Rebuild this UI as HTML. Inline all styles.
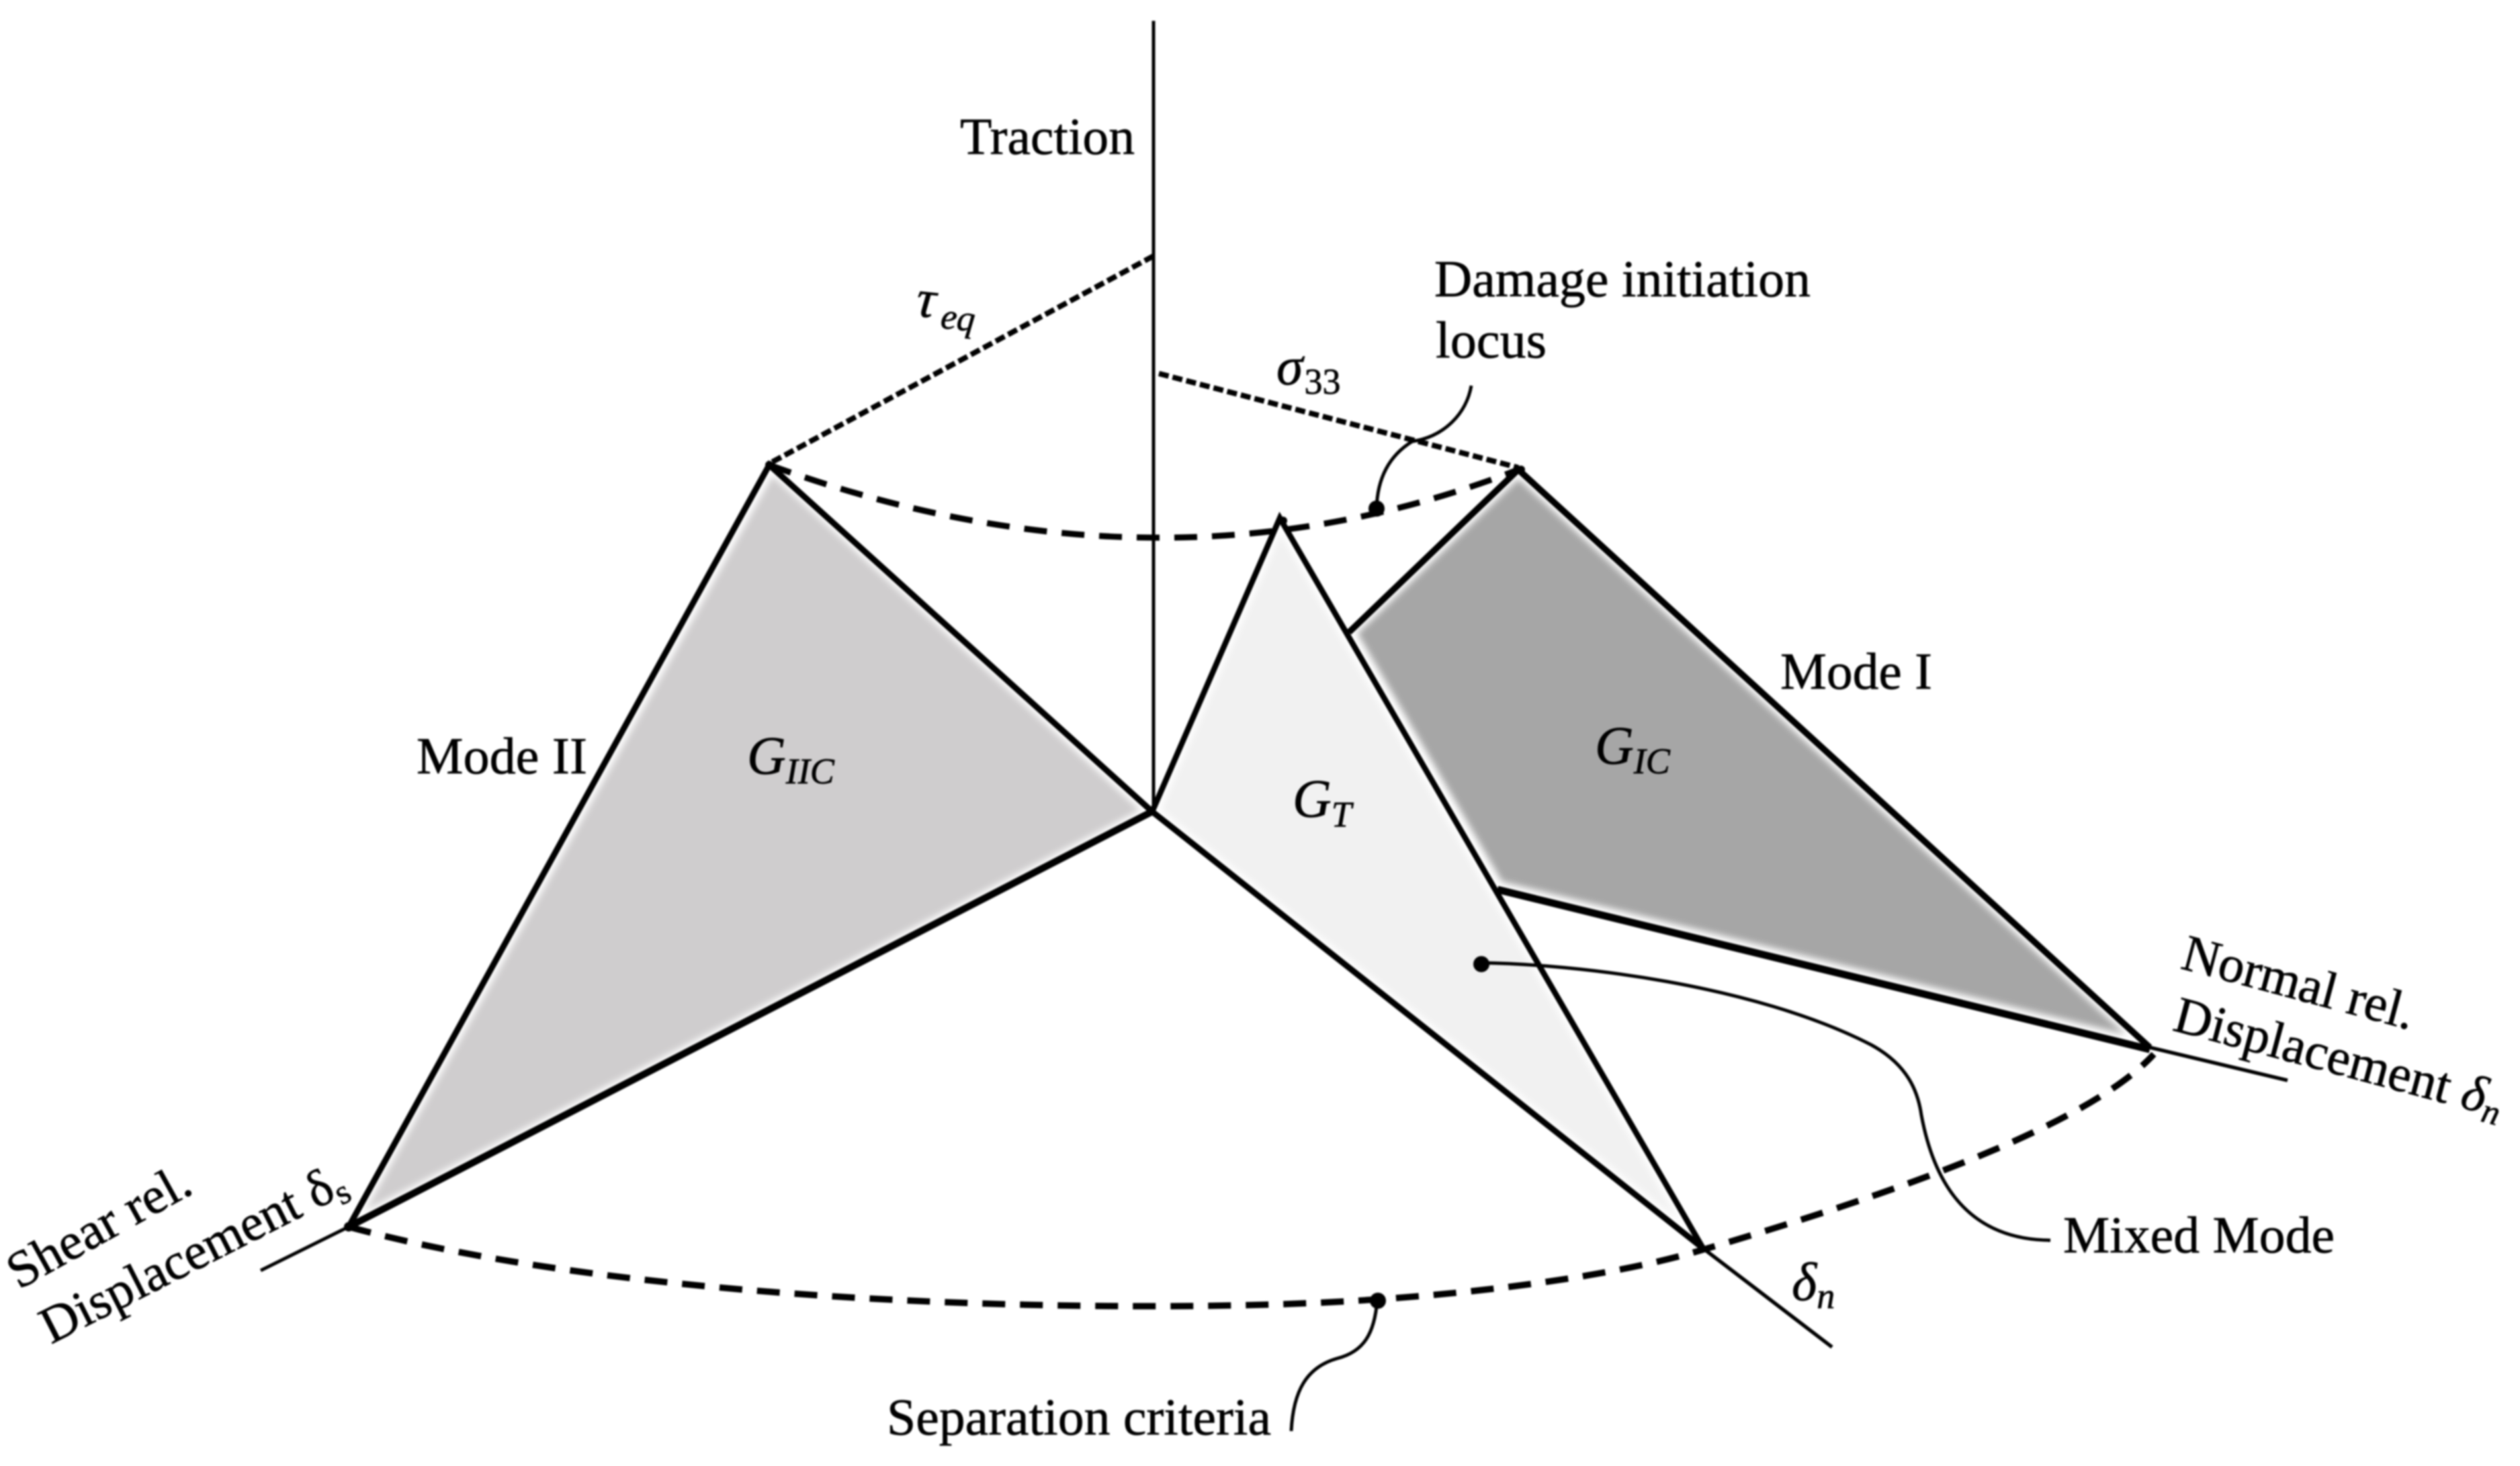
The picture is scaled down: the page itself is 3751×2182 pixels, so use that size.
<!DOCTYPE html>
<html lang="en">
<head>
<meta charset="utf-8">
<title>Traction separation diagram</title>
<style>
html,body{margin:0;padding:0;background:#fff;}
svg{display:block;filter:blur(1.2px);}
text{font-family:"Liberation Serif",serif;font-size:77px;fill:#000;stroke:#000;stroke-width:0.7px;}
.m{font-style:italic;font-size:80px;}
.s{font-style:italic;font-size:54px;}
.n{font-size:52px;}
</style>
</head>
<body>
<svg xmlns="http://www.w3.org/2000/svg" width="3751" height="2182" viewBox="0 0 3751 2182">
<defs>
<filter id="b" x="-5%" y="-5%" width="110%" height="110%"><feGaussianBlur stdDeviation="5"/></filter>
</defs>
<rect width="3751" height="2182" fill="#fff"/>

<!-- fills -->
<polygon points="1147,692 1715,1208 519,1826" fill="#cfcdce"/>
<polygon points="2260,699 3200,1559 2229,1321 2008,941" fill="#a6a6a6"/>
<polygon points="1905,771 2535,1858 1715,1208" fill="#f1f1f1"/>
<g fill="none" stroke="#fff" stroke-width="20" filter="url(#b)">
<polygon points="1147,692 1715,1208 519,1826"/>
<polygon points="2260,699 3200,1559 2229,1321 2008,941"/>
<polygon points="1905,771 2535,1858 1715,1208"/>
</g>

<!-- axes -->
<g stroke="#000" fill="none">
<line x1="1717" y1="31" x2="1717" y2="1208" stroke-width="5"/>
<line x1="519" y1="1826" x2="388" y2="1891" stroke-width="5"/>
<line x1="3200" y1="1559" x2="3405" y2="1608" stroke-width="5.5"/>
<line x1="2535" y1="1858" x2="2727" y2="2005" stroke-width="5.5"/>

<!-- main edges -->
<path d="M519 1826 L1145 692 L1715 1208 L2535 1858" stroke-width="9"/>
<path d="M519 1826 L1715 1208" stroke-width="10.5"/>
<path d="M1715 1208 L1905 771 L2535 1858" stroke-width="8.5"/>
<path d="M2008 941 L2260 699 L3200 1559" stroke-width="9.5"/>
<path d="M2229 1324 L3200 1562" stroke-width="11"/>

<!-- dashed -->
<line x1="1717" y1="381" x2="1145" y2="690" stroke-width="8" stroke-dasharray="15 6"/>
<line x1="1725" y1="556" x2="2260" y2="696" stroke-width="8" stroke-dasharray="15 6"/>
<path d="M1145 692 Q1730 905 2260 699" stroke-width="9" stroke-dasharray="34 22"/>
<path d="M519 1826 C900 1930,1500 1952,1879 1942 C2150 1935,2395 1902,2535 1860 C2790 1785,3105 1680,3206 1569" stroke-width="9.5" stroke-dasharray="34 22"/>

<!-- leaders -->
<path d="M2190 574 C2183 615,2150 650,2102 657 C2065 680,2050 715,2049 757" stroke-width="5"/>
<path d="M2203 1433 C2345 1435,2610 1465,2785 1555 C2840 1585,2855 1625,2860 1660 C2875 1740,2915 1845,3052 1846" stroke-width="5"/>
<path d="M2050 1935 C2046 1985,2030 2012,1990 2022 C1945 2035,1925 2070,1922 2130" stroke-width="5"/>
</g>

<!-- dots -->
<circle cx="2049" cy="757" r="12"/>
<circle cx="2205" cy="1435" r="12"/>
<circle cx="2051" cy="1936" r="12"/>
<circle cx="1145" cy="692" r="6"/>
<circle cx="2264" cy="699" r="6"/>
<circle cx="1910" cy="775" r="6"/>
<circle cx="519" cy="1826" r="7"/>

<!-- labels -->
<text x="1429" y="229" textLength="260" lengthAdjust="spacingAndGlyphs">Traction</text>
<text x="2135" y="441" textLength="560" lengthAdjust="spacingAndGlyphs">Damage initiation</text>
<text x="2137" y="532" textLength="165" lengthAdjust="spacingAndGlyphs">locus</text>
<text x="2650" y="1025" textLength="226" lengthAdjust="spacingAndGlyphs">Mode I</text>
<text x="620" y="1151" textLength="254" lengthAdjust="spacingAndGlyphs">Mode II</text>
<text x="3071" y="1864" textLength="404" lengthAdjust="spacingAndGlyphs">Mixed Mode</text>
<text x="1320" y="2135" textLength="572" lengthAdjust="spacingAndGlyphs">Separation criteria</text>

<text transform="translate(28 1920) rotate(-29)" textLength="300" lengthAdjust="spacingAndGlyphs">Shear rel.</text>
<text transform="translate(76 2001) rotate(-27)">Displacement δ<tspan class="n" dy="12">s</tspan></text>
<text transform="translate(3244 1441) rotate(15)" textLength="355" lengthAdjust="spacingAndGlyphs">Normal rel.</text>
<text transform="translate(3232 1533) rotate(15)">Displacement <tspan style="font-style:italic">δ</tspan><tspan class="n" dy="12" style="font-style:italic">n</tspan></text>

<text class="m" transform="translate(1362 470) rotate(6)">τ<tspan class="s" dx="10" dy="14">eq</tspan></text>
<text class="m" x="1900" y="572">σ<tspan class="s" dx="2" dy="14" style="font-style:normal">33</tspan></text>
<text class="m" x="1112" y="1152">G<tspan class="s" dy="14">IIC</tspan></text>
<text class="m" x="2374" y="1137">G<tspan class="s" dy="14">IC</tspan></text>
<text class="m" x="1924" y="1216">G<tspan class="s" dy="14">T</tspan></text>
<text class="m" x="2667" y="1935">δ<tspan class="s" dy="12">n</tspan></text>
</svg>
</body>
</html>
